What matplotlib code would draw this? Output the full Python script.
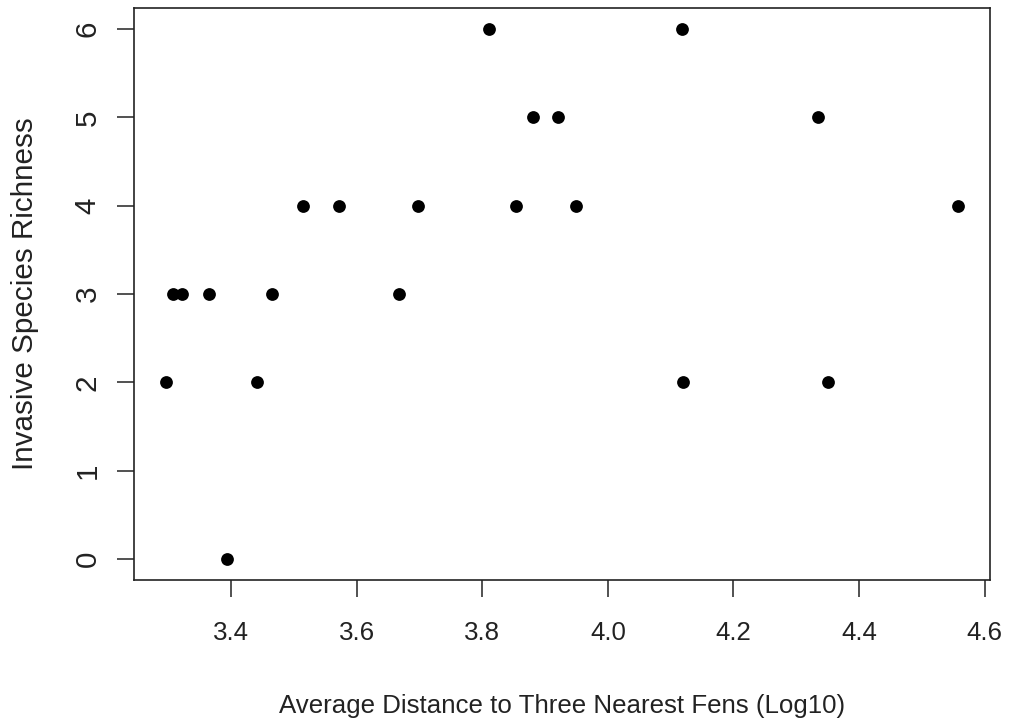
import matplotlib
matplotlib.use("Agg")
import matplotlib.pyplot as plt

# log10 average distance to the three nearest fens, invasive species richness
dist_log10 = [3.296, 3.307, 3.322, 3.365, 3.394, 3.441, 3.465, 3.515, 3.572,
              3.667, 3.698, 3.810, 3.853, 3.881, 3.920, 3.950, 4.118, 4.120,
              4.335, 4.351, 4.558]
richness = [2, 3, 3, 3, 0, 2, 3, 4, 4,
            3, 4, 6, 4, 5, 5, 4, 6, 2,
            5, 2, 4]

x_ticks = [3.4, 3.6, 3.8, 4.0, 4.2, 4.4, 4.6]
y_ticks = [0, 1, 2, 3, 4, 5, 6]

plt.rcParams['font.family'] = ['Liberation Sans', 'DejaVu Sans']
ink = '#222222'

fig = plt.figure(figsize=(10.11, 7.28), dpi=100)
ax = fig.add_axes([134 / 1011, 1 - 580 / 728, (990 - 134) / 1011, (580 - 8) / 728])

ax.plot(dist_log10, richness, 'o', color='black', markersize=9.2, markeredgewidth=0)

# R style padding: 4% of the data range on both sides
xmin, xmax = min(dist_log10), max(dist_log10)
xr = (xmax - xmin) * 0.04
ax.set_xlim(xmin - xr, xmax + xr)
ax.set_ylim(-0.24, 6.24)

ax.set_xticks(x_ticks)
ax.set_xticklabels([f"{v:.1f}" for v in x_ticks], fontsize=18.6)
ax.set_yticks(y_ticks)
ax.set_yticklabels([str(v) for v in y_ticks], rotation=90, va='center', fontsize=21.3)

ax.tick_params(axis='both', length=12.2, width=1.1, color=ink, labelcolor=ink)
ax.tick_params(axis='x', pad=17)
ax.tick_params(axis='y', pad=11)

for s in ax.spines.values():
    s.set_linewidth(1.2)
    s.set_color(ink)

ax.set_xlabel('Average Distance to Three Nearest Fens (Log10)',
              fontsize=18.6, color=ink, va='top')
ax.xaxis.set_label_coords(0.5, -0.199)
ax.set_ylabel('Invasive Species Richness', fontsize=21.3, color=ink)
ax.yaxis.set_label_coords(-0.111, 0.5)

fig.savefig('out.png', dpi=100)
